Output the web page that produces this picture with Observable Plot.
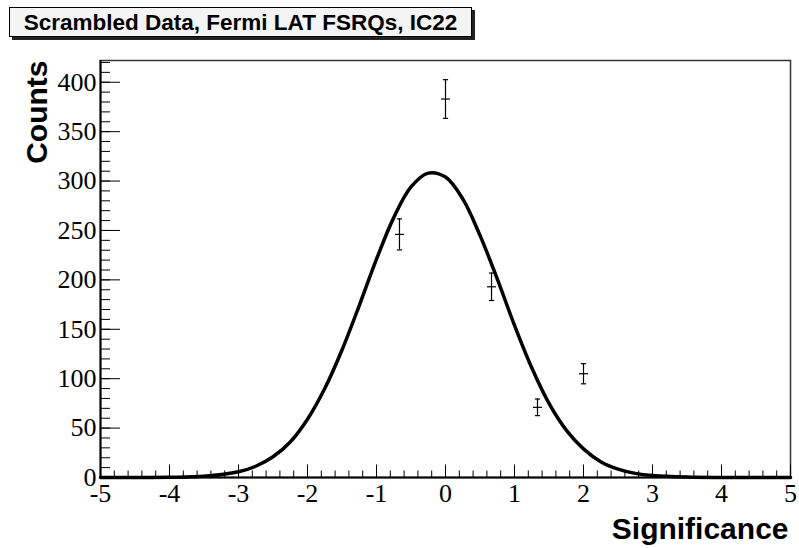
<!DOCTYPE html>
<html>
<head>
<meta charset="utf-8">
<script src="https://cdn.jsdelivr.net/npm/d3@7"></script>
<script src="https://cdn.jsdelivr.net/npm/@observablehq/plot@0.6"></script>
<style>
  body { margin: 0; background: #fff; }
  #wrap { position: relative; width: 799px; height: 548px; }
  #title {
    position: absolute; left: 9px; top: 7px; width: 463px; height: 30px;
    box-sizing: border-box; border: 1px solid #000; background: #f4f4f4;
    box-shadow: 3px 3px 0 #222;
    font: bold 22.5px "Liberation Sans", Arial, sans-serif; color: #000;
    text-align: center; line-height: 29px; white-space: nowrap;
  }
  svg { display: block; }
</style>
</head>
<body>
<div id="wrap">
  <div id="chart"></div>
  <div id="title">Scrambled Data, Fermi LAT FSRQs, IC22</div>
</div>
<script>
// Histogram points (bin centres, counts, Poisson errors)
const binCenters = [-0.667, 0, 0.667, 1.333, 2.0];
const counts = [246, 383, 193, 71, 105];
const errors = [15.7, 19.6, 13.9, 8.4, 10.2];

// Gaussian fit curve
const fitX = [-5, -4.5, -4, -3.5, -3, -2.75, -2.5, -2.25, -2, -1.75, -1.5, -1.25, -1, -0.75, -0.5, -0.25, 0, 0.25, 0.5, 0.75, 1, 1.25, 1.5, 1.75, 2, 2.25, 2.5, 2.75, 3, 3.5, 4, 4.5, 5];
const fitY = [0, 0, 0.2, 1.2, 5.8, 11.4, 21, 36, 59, 90, 129, 174, 221, 263, 294, 308, 304, 282, 245, 201, 154, 111, 75, 48, 29, 16, 8.5, 4.2, 2, 0.4, 0, 0, 0];

// Axis ticks
const xMajorTicks = [-5, -4, -3, -2, -1, 0, 1, 2, 3, 4, 5];
const yMajorTicks = [0, 50, 100, 150, 200, 250, 300, 350, 400];
const xMinorStep = 0.2;
const yMinorStep = 10;
const axisTitles = ["Significance", "Counts"];

const points = binCenters.map((x, i) => ({x, y: counts[i], e: errors[i]}));
const fit = fitX.map((x, i) => ({x, y: fitY[i]}));
const xMinor = d3.range(-5, 5 + 1e-9, xMinorStep).map(v => +v.toFixed(2));
const yMinor = d3.range(0, 420 + 1e-9, yMinorStep);

const W = 799, H = 548, mL = 100, mR = 9, mT = 60, mB = 71;
const plotW = W - mL - mR, plotH = H - mT - mB;

const hline = {draw(ctx, size) { const r = Math.sqrt(size / Math.PI); ctx.moveTo(-r, 0); ctx.lineTo(r, 0); }};

const serif = "'Liberation Serif', 'DejaVu Serif', serif";
const sans = "'Liberation Sans', Arial, sans-serif";

const chart = Plot.plot({
  width: W, height: H,
  marginLeft: mL, marginRight: mR, marginTop: mT, marginBottom: mB,
  style: {background: "#fff", color: "#000"},
  x: {domain: [-5, 5]},
  y: {domain: [0, 422]},
  marks: [
    Plot.frame({stroke: "#333", strokeWidth: 1.5}),
    // minor & major ticks (pointing inward)
    Plot.tickX(xMinor, {x: d => d, insetTop: plotH - 6.5, stroke: "#000", strokeWidth: 1}),
    Plot.tickX(xMajorTicks, {x: d => d, insetTop: plotH - 12.5, stroke: "#000", strokeWidth: 1}),
    Plot.tickY(yMinor, {y: d => d, insetRight: plotW - 10, stroke: "#000", strokeWidth: 1}),
    Plot.tickY(yMajorTicks, {y: d => d, insetRight: plotW - 20, stroke: "#000", strokeWidth: 1}),
    Plot.ruleY([0], {stroke: "#000", strokeWidth: 2}),
    Plot.ruleX([-5], {stroke: "#000", strokeWidth: 2}),
    Plot.axisX({ticks: xMajorTicks, tickSize: 0, tickPadding: 6, tickFormat: d => String(d), label: null}),
    Plot.axisY({ticks: yMajorTicks, tickSize: 0, tickPadding: 4, tickFormat: d => String(d), label: null}),
    // fit curve
    Plot.line(fit, {x: "x", y: "y", curve: "catmull-rom", stroke: "#000", strokeWidth: 3.5}),
    // error bars
    Plot.ruleX(points, {x: "x", y1: d => d.y - d.e, y2: d => d.y + d.e, stroke: "#000", strokeWidth: 1.2}),
    Plot.dot(points, {x: "x", y: d => d.y - d.e, symbol: hline, r: 2.6, stroke: "#000", strokeWidth: 1.2, fill: "none"}),
    Plot.dot(points, {x: "x", y: d => d.y + d.e, symbol: hline, r: 2.6, stroke: "#000", strokeWidth: 1.2, fill: "none"}),
    Plot.dot(points, {x: "x", y: "y", symbol: hline, r: 4.5, stroke: "#000", strokeWidth: 1.2, fill: "none"}),
    // axis titles
    Plot.text([axisTitles[0]], {frameAnchor: "bottom-right", text: d => d, textAnchor: "end", lineAnchor: "bottom", dx: -2, dy: 61, fontSize: 30, fontWeight: "bold", fontFamily: sans}),
    Plot.text([axisTitles[1]], {frameAnchor: "top-left", text: d => d, rotate: -90, textAnchor: "end", lineAnchor: "bottom", dx: -54, dy: 0, fontSize: 30, fontWeight: "bold", fontFamily: sans})
  ]
});
chart.querySelectorAll("text").forEach(t => {
  if (!axisTitles.includes(t.textContent)) {
    t.style.fontFamily = serif;
    t.style.fontSize = "26px";
    t.style.fontWeight = "normal";
  }
});
document.getElementById("chart").appendChild(chart);
</script>
</body>
</html>
